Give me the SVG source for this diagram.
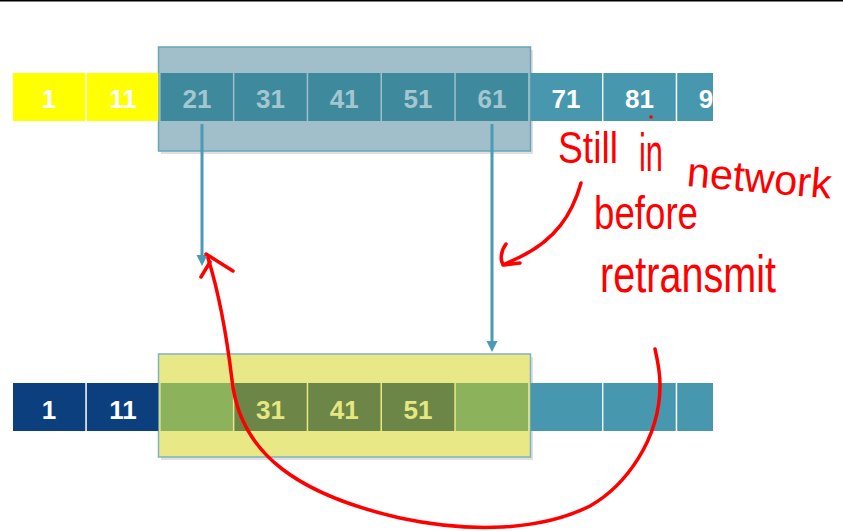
<svg xmlns="http://www.w3.org/2000/svg" width="843" height="531" viewBox="0 0 843 531">
<style>
.num{font-family:"Liberation Sans",Arial,sans-serif;font-weight:bold;font-size:26px;text-anchor:middle}
.hand{font-family:"Liberation Sans",Arial,sans-serif;fill:#ff0000}
.ink{fill:none;stroke:#ff0000;stroke-width:3.5;stroke-linecap:round;stroke-linejoin:round}
.conn{stroke:#4a9bb3;stroke-width:3;fill:none}
.head{fill:#4a9bb3}
</style>
<defs>
<clipPath id="rowclip"><rect x="0" y="0" width="713" height="531"/></clipPath>
</defs>
<rect x="0" y="0" width="843" height="531" fill="#ffffff"/>
<rect x="0" y="0" width="843" height="1.5" fill="#000000"/>

<!-- top row -->
<g id="top-window">
<rect x="161" y="50" width="372" height="104" fill="#000" opacity="0.12"/>
<rect x="158.5" y="47" width="372" height="104" fill="#a0bfca" stroke="#6aa5b8" stroke-width="1.5"/>
</g>
<g id="top-row" clip-path="url(#rowclip)">
<g id="t1"><rect x="13" y="73" width="72.3" height="48" fill="#ffff00"/><text class="num" x="49" y="108" fill="#fff">1</text></g>
<g id="t11"><rect x="86.8" y="73" width="71.5" height="48" fill="#ffff00"/><text class="num" x="123" y="108" fill="#fff">11</text></g>
<g id="t21"><rect x="160.6" y="73" width="72.3" height="48" fill="#3f899d"/><text class="num" x="197" y="108" fill="#a3c7d1">21</text></g>
<g id="t31"><rect x="234.4" y="73" width="72.3" height="48" fill="#3f899d"/><text class="num" x="270.5" y="108" fill="#a3c7d1">31</text></g>
<g id="t41"><rect x="308.2" y="73" width="72.3" height="48" fill="#3f899d"/><text class="num" x="344.3" y="108" fill="#a3c7d1">41</text></g>
<g id="t51"><rect x="382" y="73" width="72.3" height="48" fill="#3f899d"/><text class="num" x="418" y="108" fill="#a3c7d1">51</text></g>
<g id="t61"><rect x="455.8" y="73" width="72.3" height="48" fill="#3f899d"/><text class="num" x="492" y="108" fill="#a3c7d1">61</text></g>
<g id="t71"><rect x="530.6" y="73" width="71.5" height="48" fill="#4797ae"/><text class="num" x="566" y="108" fill="#fff">71</text></g>
<g id="t81"><rect x="603.4" y="73" width="72.3" height="48" fill="#4797ae"/><text class="num" x="639.5" y="108" fill="#fff">81</text></g>
<g id="t91"><rect x="677.2" y="73" width="72.3" height="48" fill="#4797ae"/><text class="num" x="706" y="108" fill="#fff">9</text></g>
</g>

<!-- bottom row -->
<g id="bottom-window">
<rect x="161" y="357" width="372" height="103" fill="#000" opacity="0.12"/>
<rect x="158.5" y="354" width="372" height="103" fill="#e8e886" stroke="#7fb2c2" stroke-width="1.5"/>
</g>
<g id="bottom-row" clip-path="url(#rowclip)">
<g id="b1"><rect x="13" y="383" width="72.3" height="48" fill="#0c3f7e"/><text class="num" x="49" y="419" fill="#fff">1</text></g>
<g id="b11"><rect x="86.8" y="383" width="71.5" height="48" fill="#0c3f7e"/><text class="num" x="123" y="419" fill="#fff">11</text></g>
<g id="b21"><rect x="160.6" y="383" width="72.3" height="48" fill="#8cb35c"/></g>
<g id="b31"><rect x="234.4" y="383" width="72.3" height="48" fill="#6b8646"/><text class="num" x="270.5" y="419" fill="#e6e682">31</text></g>
<g id="b41"><rect x="308.2" y="383" width="72.3" height="48" fill="#6b8646"/><text class="num" x="344.3" y="419" fill="#e6e682">41</text></g>
<g id="b51"><rect x="382" y="383" width="72.3" height="48" fill="#6b8646"/><text class="num" x="418" y="419" fill="#e6e682">51</text></g>
<g id="b61"><rect x="455.8" y="383" width="72.3" height="48" fill="#8cb35c"/></g>
<g id="b71"><rect x="530.6" y="383" width="71.5" height="48" fill="#4797ae"/></g>
<g id="b81"><rect x="603.4" y="383" width="72.3" height="48" fill="#4797ae"/></g>
<g id="b91"><rect x="677.2" y="383" width="72.3" height="48" fill="#4797ae"/></g>
</g>

<!-- connectors -->
<g id="connectors">
<line class="conn" x1="202" y1="124" x2="202" y2="256"/>
<polygon class="head" points="196.5,255 207.5,255 202,266"/>
<line class="conn" x1="492" y1="124" x2="492" y2="342"/>
<polygon class="head" points="486.5,341 497.5,341 492,352"/>
</g>

<!-- handwritten annotation -->
<g id="annotation">
<text class="hand" x="558" y="163" style="font-size:44px" textLength="60" lengthAdjust="spacingAndGlyphs">Still</text>
<text class="hand" x="639" y="171" style="font-size:54px" textLength="24" lengthAdjust="spacingAndGlyphs">in</text>
<text class="hand" x="686" y="186" style="font-size:42px" textLength="145" lengthAdjust="spacingAndGlyphs" transform="rotate(5 686 186)">network</text>
<text class="hand" x="594" y="229" style="font-size:46px" textLength="104" lengthAdjust="spacingAndGlyphs">before</text>
<text class="hand" x="600" y="292" style="font-size:52px" textLength="176" lengthAdjust="spacingAndGlyphs">retransmit</text>
<circle cx="651" cy="117" r="1.8" fill="#ff0000"/>
<path class="ink" d="M581,183 C572,215 555,240 520,257 L503,265 M506,244 C500,252 500,262 504,265 L520,263"/>
<path class="ink" d="M208,258 C218,290 226,330 232,380 C240,455 300,495 400,518 C470,533 540,531 590,506 C625,486 660,440 660,385 C660,370 657,358 655,349"/>
<path class="ink" d="M206,254 L233,271 M210,262 L201,277"/>
</g>
</svg>
